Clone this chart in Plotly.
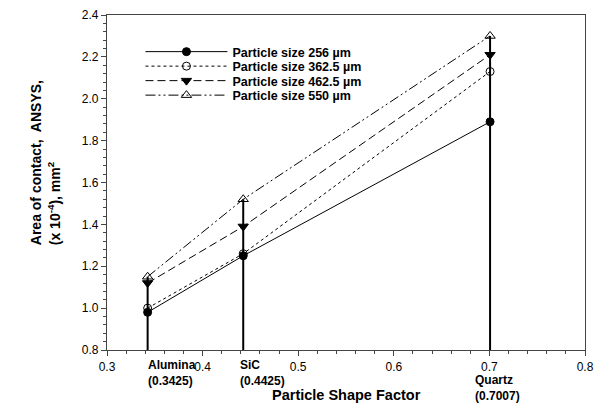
import plotly.graph_objects as go

# Particle shape factor of each abrasive material
materials = ["Alumina", "SiC", "Quartz"]
shape_factor = [0.3425, 0.4425, 0.7007]

# Area of contact from ANSYS (x 1e-4 mm^2) for each particle size
area_256 = [0.98, 1.25, 1.89]
area_362_5 = [1.00, 1.26, 2.13]
area_462_5 = [1.12, 1.39, 2.21]
area_550 = [1.15, 1.52, 2.30]

series_names = [
    "Particle size 256 µm",
    "Particle size 362.5 µm",
    "Particle size 462.5 µm",
    "Particle size 550 µm",
]

y_min, y_max = 0.8, 2.4
x_min, x_max = 0.3, 0.8

FONT = "Liberation Sans, Arial, sans-serif"

fig = go.Figure()

# vertical drop lines from the axis floor to the highest value at each material
all_series = [area_256, area_362_5, area_462_5, area_550]
for i, sf in enumerate(shape_factor):
    top = max(s[i] for s in all_series)
    fig.add_trace(go.Scatter(
        x=[sf, sf], y=[y_min, top], mode="lines",
        line=dict(color="black", width=2), showlegend=False, hoverinfo="skip",
    ))

styles = [
    dict(dash="solid", symbol="circle", size=8),
    dict(dash="dot", symbol="circle-open", size=8),
    dict(dash="8px,4px", symbol="triangle-down", size=9),
    dict(dash="10px,3px,2px,3px,2px,3px", symbol="triangle-up-open", size=9),
]

# one small legend per series so the rows can sit close together
legend_ids = ["legend", "legend2", "legend3", "legend4"]

for name, vals, st, lg in zip(series_names, all_series, styles, legend_ids):
    fig.add_trace(go.Scatter(
        x=shape_factor, y=vals, mode="lines+markers", name=name, legend=lg,
        line=dict(color="black", width=1, dash=st["dash"]),
        marker=dict(symbol=st["symbol"], size=st["size"], color="black",
                    line=dict(color="black", width=1)),
    ))

# material labels under the x axis
shifts = [(-2, -6), (-5, -6), (-17, -21)]
for m, sf, (dx, dy) in zip(materials, shape_factor, shifts):
    fig.add_annotation(
        x=sf, y=y_min, xref="x", yref="y", xanchor="left", yanchor="top",
        xshift=dx, yshift=dy, showarrow=False, align="left",
        text=f"<b>{m}<br>({sf})</b>",
        font=dict(family=FONT, size=12, color="black"),
    )

# axis titles
fig.add_annotation(
    x=0.5, y=-0.135, xref="paper", yref="paper", xanchor="center", yanchor="middle",
    showarrow=False, text="<b>Particle Shape Factor</b>",
    font=dict(family=FONT, size=14.5, color="black"),
)
fig.add_annotation(
    x=-0.128, y=0.56, xref="paper", yref="paper", xanchor="center", yanchor="middle",
    showarrow=False, textangle=-90, align="left",
    text="<b>Area of contact,  ANSYS,<br>(x 10<sup>-4</sup>), mm<sup>2</sup></b>",
    font=dict(family=FONT, size=14, color="black"),
)

axis_common = dict(
    showgrid=False, zeroline=False, showline=True, linecolor="#444", linewidth=1.2,
    mirror=True, ticks="outside", ticklen=5, tickcolor="#444", tickwidth=1,
    tickfont=dict(family=FONT, size=12, color="black"), automargin=False,
)

fig.update_xaxes(
    range=[x_min, x_max], dtick=0.1, tick0=0.3, tickformat=".1f",
    minor=dict(dtick=0.02, ticks="outside", ticklen=3, tickcolor="#444"),
    **axis_common,
)
fig.update_yaxes(
    range=[y_min, y_max], dtick=0.2, tick0=0.8, tickformat=".1f",
    minor=dict(dtick=0.04, ticks="outside", ticklen=3, tickcolor="#444"),
    **axis_common,
)

plot_top, plot_bottom = 15, 350
row_px = [52, 66.5, 81, 95.5]
legend_layout = {}
for lg, py in zip(legend_ids, row_px):
    legend_layout[lg] = dict(
        x=0.07, y=(plot_bottom - py) / (plot_bottom - plot_top),
        xanchor="left", yanchor="middle",
        bgcolor="rgba(0,0,0,0)", borderwidth=0,
        font=dict(family=FONT, size=12.5, color="black", weight="bold"),
        itemwidth=82,
    )

fig.update_layout(
    width=596, height=403,
    margin=dict(l=107, r=11, t=plot_top, b=403 - plot_bottom),
    plot_bgcolor="white", paper_bgcolor="white",
    font=dict(family=FONT, color="black"),
    **legend_layout,
)

fig.write_html("out.html")
